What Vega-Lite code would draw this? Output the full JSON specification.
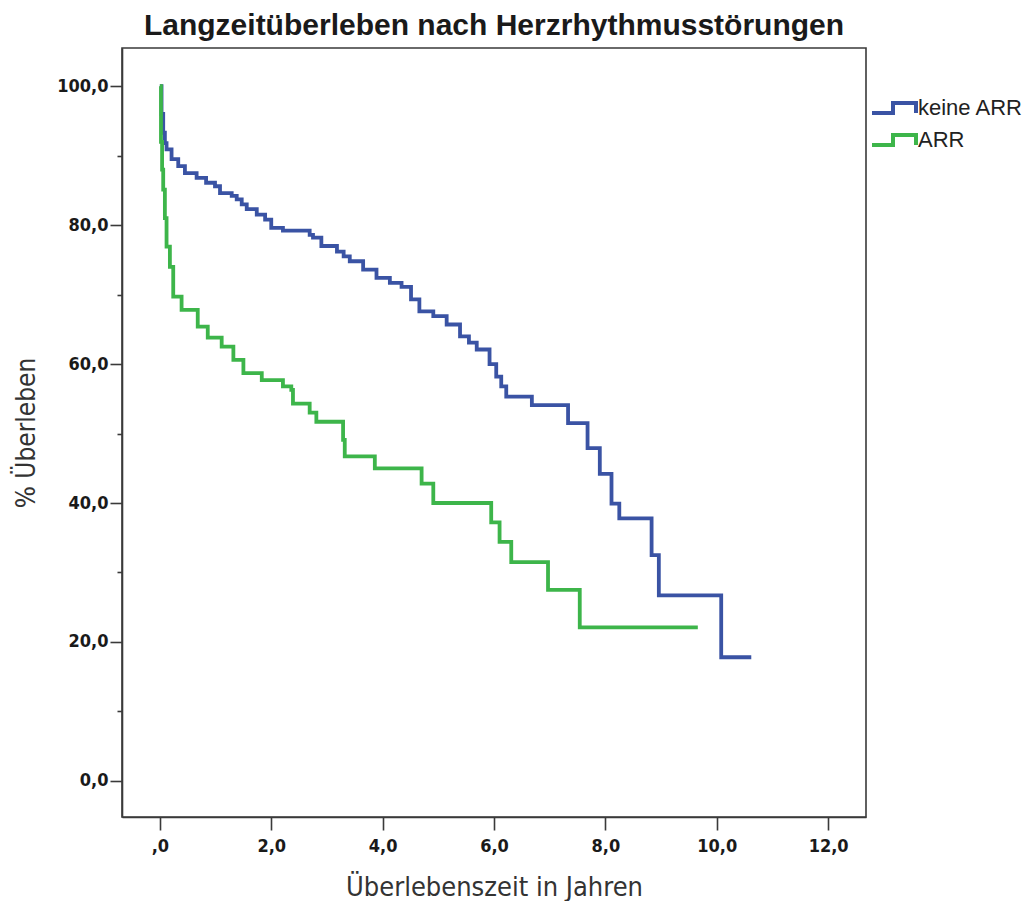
{
  "$schema": "https://vega.github.io/schema/vega-lite/v6.json",
  "autosize": "none",
  "width": 744,
  "height": 769,
  "padding": {"left": 122, "top": 48, "right": 163, "bottom": 84},
  "background": "white",
  "title": {
    "text": "Langzeitüberleben nach Herzrhythmusstörungen",
    "font": "Liberation Sans",
    "fontSize": 30,
    "fontWeight": "bold",
    "color": "#1a1a1a",
    "anchor": "middle",
    "offset": 7
  },
  "config": {
    "view": {"stroke": "#3a3a3a", "strokeWidth": 1.6},
    "axis": {"grid": false}
  },
  "datasets": {
    "curves": [
      {"gruppe": "keine ARR", "zeit": 0, "ueberleben": 100},
      {"gruppe": "keine ARR", "zeit": 0.03, "ueberleben": 96},
      {"gruppe": "keine ARR", "zeit": 0.06, "ueberleben": 93.3},
      {"gruppe": "keine ARR", "zeit": 0.09, "ueberleben": 91.8},
      {"gruppe": "keine ARR", "zeit": 0.12, "ueberleben": 90.9},
      {"gruppe": "keine ARR", "zeit": 0.21, "ueberleben": 89.5},
      {"gruppe": "keine ARR", "zeit": 0.33, "ueberleben": 88.5},
      {"gruppe": "keine ARR", "zeit": 0.45, "ueberleben": 87.5},
      {"gruppe": "keine ARR", "zeit": 0.66, "ueberleben": 86.8},
      {"gruppe": "keine ARR", "zeit": 0.83, "ueberleben": 86.1},
      {"gruppe": "keine ARR", "zeit": 0.99, "ueberleben": 85.6},
      {"gruppe": "keine ARR", "zeit": 1.08, "ueberleben": 84.6},
      {"gruppe": "keine ARR", "zeit": 1.29, "ueberleben": 84.2},
      {"gruppe": "keine ARR", "zeit": 1.38, "ueberleben": 83.7},
      {"gruppe": "keine ARR", "zeit": 1.47, "ueberleben": 83.0},
      {"gruppe": "keine ARR", "zeit": 1.56, "ueberleben": 82.3},
      {"gruppe": "keine ARR", "zeit": 1.74, "ueberleben": 81.5},
      {"gruppe": "keine ARR", "zeit": 1.89, "ueberleben": 80.8},
      {"gruppe": "keine ARR", "zeit": 2.0, "ueberleben": 79.6},
      {"gruppe": "keine ARR", "zeit": 2.21, "ueberleben": 79.2},
      {"gruppe": "keine ARR", "zeit": 2.69, "ueberleben": 78.6},
      {"gruppe": "keine ARR", "zeit": 2.75, "ueberleben": 78.2},
      {"gruppe": "keine ARR", "zeit": 2.9, "ueberleben": 77.0},
      {"gruppe": "keine ARR", "zeit": 3.18, "ueberleben": 76.2},
      {"gruppe": "keine ARR", "zeit": 3.3, "ueberleben": 75.5},
      {"gruppe": "keine ARR", "zeit": 3.41, "ueberleben": 74.8},
      {"gruppe": "keine ARR", "zeit": 3.65, "ueberleben": 73.6},
      {"gruppe": "keine ARR", "zeit": 3.89, "ueberleben": 72.4},
      {"gruppe": "keine ARR", "zeit": 4.13, "ueberleben": 71.7},
      {"gruppe": "keine ARR", "zeit": 4.34, "ueberleben": 71.1},
      {"gruppe": "keine ARR", "zeit": 4.51, "ueberleben": 69.3},
      {"gruppe": "keine ARR", "zeit": 4.66, "ueberleben": 67.6},
      {"gruppe": "keine ARR", "zeit": 4.91, "ueberleben": 66.9},
      {"gruppe": "keine ARR", "zeit": 5.15, "ueberleben": 65.7},
      {"gruppe": "keine ARR", "zeit": 5.39, "ueberleben": 64.0},
      {"gruppe": "keine ARR", "zeit": 5.55, "ueberleben": 63.1},
      {"gruppe": "keine ARR", "zeit": 5.69, "ueberleben": 62.1},
      {"gruppe": "keine ARR", "zeit": 5.92, "ueberleben": 60.0},
      {"gruppe": "keine ARR", "zeit": 6.04, "ueberleben": 58.2},
      {"gruppe": "keine ARR", "zeit": 6.13, "ueberleben": 56.8},
      {"gruppe": "keine ARR", "zeit": 6.22, "ueberleben": 55.3},
      {"gruppe": "keine ARR", "zeit": 6.68, "ueberleben": 54.1},
      {"gruppe": "keine ARR", "zeit": 7.33, "ueberleben": 51.5},
      {"gruppe": "keine ARR", "zeit": 7.68, "ueberleben": 47.9},
      {"gruppe": "keine ARR", "zeit": 7.9, "ueberleben": 44.2},
      {"gruppe": "keine ARR", "zeit": 8.11, "ueberleben": 39.9},
      {"gruppe": "keine ARR", "zeit": 8.25, "ueberleben": 37.8},
      {"gruppe": "keine ARR", "zeit": 8.83, "ueberleben": 32.5},
      {"gruppe": "keine ARR", "zeit": 8.96, "ueberleben": 26.7},
      {"gruppe": "keine ARR", "zeit": 10.08, "ueberleben": 17.8},
      {"gruppe": "keine ARR", "zeit": 10.62, "ueberleben": 17.8},
      {"gruppe": "ARR", "zeit": 0, "ueberleben": 100},
      {"gruppe": "ARR", "zeit": 0.02, "ueberleben": 92},
      {"gruppe": "ARR", "zeit": 0.04, "ueberleben": 88},
      {"gruppe": "ARR", "zeit": 0.06, "ueberleben": 85.1},
      {"gruppe": "ARR", "zeit": 0.09, "ueberleben": 81},
      {"gruppe": "ARR", "zeit": 0.12, "ueberleben": 76.9},
      {"gruppe": "ARR", "zeit": 0.18, "ueberleben": 74.0},
      {"gruppe": "ARR", "zeit": 0.24, "ueberleben": 69.7},
      {"gruppe": "ARR", "zeit": 0.39, "ueberleben": 67.8},
      {"gruppe": "ARR", "zeit": 0.68, "ueberleben": 65.4},
      {"gruppe": "ARR", "zeit": 0.86, "ueberleben": 63.8},
      {"gruppe": "ARR", "zeit": 1.11, "ueberleben": 62.5},
      {"gruppe": "ARR", "zeit": 1.32, "ueberleben": 60.6},
      {"gruppe": "ARR", "zeit": 1.5, "ueberleben": 58.7},
      {"gruppe": "ARR", "zeit": 1.83, "ueberleben": 57.7},
      {"gruppe": "ARR", "zeit": 2.21, "ueberleben": 56.8},
      {"gruppe": "ARR", "zeit": 2.36, "ueberleben": 56.3},
      {"gruppe": "ARR", "zeit": 2.39, "ueberleben": 54.3},
      {"gruppe": "ARR", "zeit": 2.69, "ueberleben": 53.0},
      {"gruppe": "ARR", "zeit": 2.81, "ueberleben": 51.7},
      {"gruppe": "ARR", "zeit": 3.29, "ueberleben": 49.1},
      {"gruppe": "ARR", "zeit": 3.32, "ueberleben": 46.7},
      {"gruppe": "ARR", "zeit": 3.86, "ueberleben": 45.0},
      {"gruppe": "ARR", "zeit": 4.7, "ueberleben": 42.8},
      {"gruppe": "ARR", "zeit": 4.91, "ueberleben": 40.0},
      {"gruppe": "ARR", "zeit": 5.95, "ueberleben": 37.2},
      {"gruppe": "ARR", "zeit": 6.1, "ueberleben": 34.4},
      {"gruppe": "ARR", "zeit": 6.31, "ueberleben": 31.5},
      {"gruppe": "ARR", "zeit": 6.97, "ueberleben": 27.5},
      {"gruppe": "ARR", "zeit": 7.54, "ueberleben": 22.1},
      {"gruppe": "ARR", "zeit": 9.66, "ueberleben": 22.1}
    ]
  },
  "data": {"name": "curves"},
  "mark": {"type": "line", "interpolate": "step-after", "strokeWidth": 3.8, "clip": true},
  "encoding": {
    "x": {
      "field": "zeit",
      "type": "quantitative",
      "scale": {"domain": [-0.68, 12.68], "nice": false, "zero": false},
      "axis": {
        "title": "Überlebenszeit in Jahren",
        "values": [0, 2, 4, 6, 8, 10, 12],
        "labelExpr": "datum.value == 0 ? ',0' : replace(format(datum.value, '.1f'), '.', ',')",
        "labelFont": "Liberation Sans Narrow, DejaVu Sans Condensed, sans-serif",
        "labelFontWeight": "bold",
        "labelFontSize": 18,
        "labelColor": "#1a1a1a",
        "labelPadding": 7,
        "tickSize": 13,
        "tickWidth": 1.6,
        "tickColor": "#3a3a3a",
        "domainColor": "#3a3a3a",
        "domainWidth": 1.6,
        "titleFont": "Liberation Sans Narrow, DejaVu Sans Condensed, sans-serif",
        "titleFontWeight": "normal",
        "titleFontSize": 27,
        "titleColor": "#333333",
        "titlePadding": 19
      }
    },
    "y": {
      "field": "ueberleben",
      "type": "quantitative",
      "scale": {"domain": [-5.2, 105.5], "nice": false, "zero": false},
      "axis": {
        "title": "% Überleben",
        "values": [0, 10, 20, 30, 40, 50, 60, 70, 80, 90, 100],
        "labelExpr": "datum.value % 20 == 0 ? replace(format(datum.value, '.1f'), '.', ',') : ''",
        "labelFont": "Liberation Sans Narrow, DejaVu Sans Condensed, sans-serif",
        "labelFontWeight": "bold",
        "labelFontSize": 18,
        "labelColor": "#1a1a1a",
        "labelPadding": 2,
        "tickSize": {"condition": {"test": "datum.value % 20 == 0", "value": 12}, "value": 5},
        "tickWidth": 1.6,
        "tickColor": "#3a3a3a",
        "domainColor": "#3a3a3a",
        "domainWidth": 1.6,
        "titleFont": "Liberation Sans Narrow, DejaVu Sans Condensed, sans-serif",
        "titleFontWeight": "normal",
        "titleFontSize": 26,
        "titleColor": "#333333",
        "titlePadding": 17
      }
    },
    "color": {
      "field": "gruppe",
      "type": "nominal",
      "scale": {"domain": ["keine ARR", "ARR"], "range": ["#3a53a4", "#3db54a"]},
      "legend": {
        "title": null,
        "orient": "none",
        "legendX": 760,
        "legendY": 48,
        "symbolType": "M-2.2,0.5H-0.1V-0.5H2.2V0.5",
        "symbolSize": 400,
        "symbolStrokeWidth": 4,
        "labelFont": "Liberation Sans, sans-serif",
        "labelFontSize": 22,
        "labelColor": "#222222",
        "labelOffset": 12,
        "rowPadding": 6
      }
    }
  }
}
